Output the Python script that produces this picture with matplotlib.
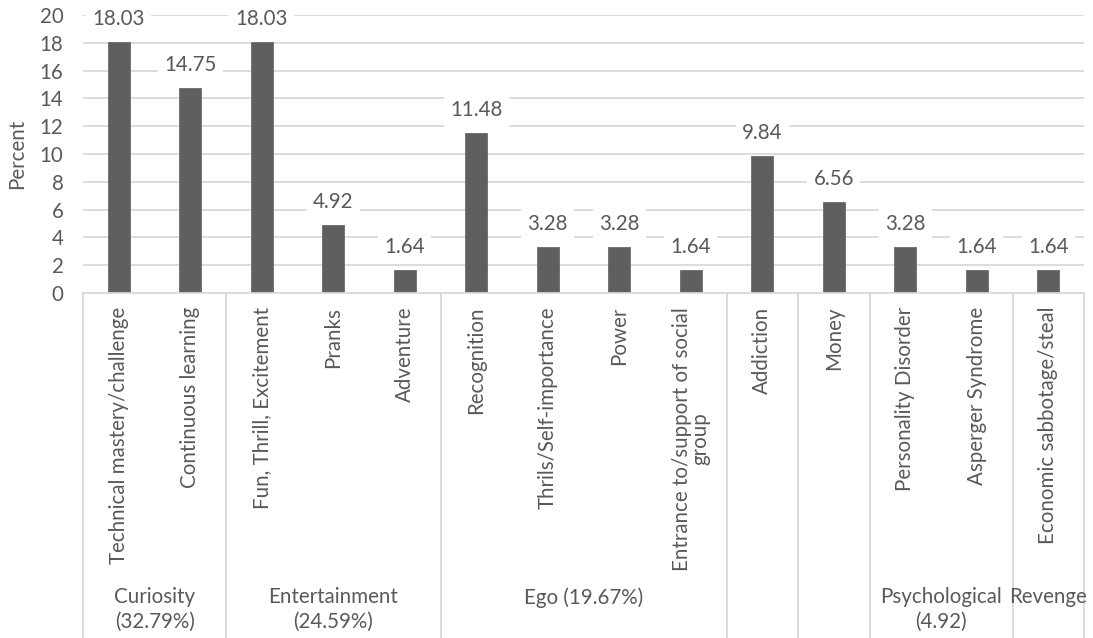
import matplotlib
matplotlib.use("Agg")
import matplotlib.pyplot as plt
from matplotlib.lines import Line2D
import matplotlib.transforms as mtransforms

plt.rcParams['font.family'] = ['Lato', 'DejaVu Sans']

# Motivation categories and their shares (percent)
categories = [
    "Technical mastery/challenge", "Continuous learning",
    "Fun, Thrill, Excitement", "Pranks", "Adventure",
    "Recognition", "Thrils/Self-importance", "Power",
    "Entrance to/support of social\ngroup",
    "Addiction", "Money",
    "Personality Disorder", "Asperger Syndrome",
    "Economic sabbotage/steal",
]
values = [18.03, 14.75, 18.03, 4.92, 1.64, 11.48, 3.28, 3.28, 1.64,
          9.84, 6.56, 3.28, 1.64, 1.64]

# Outer grouping: (label, first index, last index)
groups = [
    ("Curiosity\n(32.79%)", 0, 1),
    ("Entertainment\n(24.59%)", 2, 4),
    ("Ego (19.67%)", 5, 8),
    ("", 9, 9),
    ("", 10, 10),
    ("Psychological\n(4.92)", 11, 12),
    ("Revenge", 13, 13),
]

TEXT = "#595959"
BAR = "#5f5f5f"
GRID = "#d9d9d9"
FS = 14.8

W, H = 1093, 638
fig = plt.figure(figsize=(W / 100, H / 100), dpi=100)
left, right, top, bottom = 83, 1084, 15, 293
ax = fig.add_axes([left / W, 1 - bottom / H, (right - left) / W, (bottom - top) / H])

x = list(range(len(categories)))
ax.bar(x, values, width=0.31, color=BAR, edgecolor="#6a6a6a", linewidth=0.6, zorder=2)

ax.set_xlim(-0.5, len(categories) - 0.5)
ax.set_ylim(0, 20)
ax.set_yticks(range(0, 21, 2))
ax.grid(axis="y", color=GRID, linewidth=1.3, zorder=0)
ax.set_axisbelow(True)
for s in ("left", "right", "top"):
    ax.spines[s].set_visible(False)
ax.spines["bottom"].set_color(GRID)
ax.spines["bottom"].set_linewidth(1.3)

ax.tick_params(axis="y", length=0, pad=14, labelsize=FS, labelcolor=TEXT)
ax.tick_params(axis="x", length=0, pad=10, labelsize=FS, labelcolor=TEXT)
ax.set_xticks(x)
ax.set_xticklabels(categories, rotation=90, va="top", ha="center",
                   multialignment="center", linespacing=0.9)
ax.set_ylabel("Percent", fontsize=FS, color=TEXT, labelpad=9)

# Value labels above each bar
for xi, v in zip(x, values):
    ax.annotate(f"{v:.2f}", (xi, v), xytext=(0, 13), textcoords="offset pixels",
                ha="center", va="bottom", fontsize=FS, color=TEXT, zorder=5,
                bbox=dict(boxstyle="square,pad=0.3", fc="white", ec="none"))

# Group separators and outer category labels
trans = mtransforms.blended_transform_factory(ax.transData, ax.transAxes)
ax_h = bottom - top
y_end = -(H - bottom) / ax_h
y_lab = -(587 - bottom) / ax_h
bounds = sorted({g[1] - 0.5 for g in groups} | {groups[-1][2] + 0.5})
for b in bounds:
    ax.add_line(Line2D([b, b], [0, y_end], transform=trans, color=GRID,
                       linewidth=1.3, clip_on=False))
for label, i0, i1 in groups:
    if label:
        ax.text((i0 + i1) / 2, y_lab, label, transform=trans, ha="center", va="top",
                fontsize=FS, color=TEXT, linespacing=1.3, multialignment="center")

fig.savefig("out.png", dpi=100, facecolor="white")
